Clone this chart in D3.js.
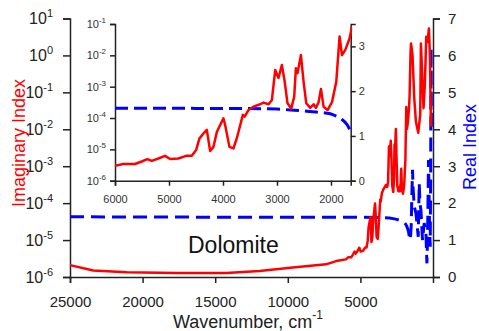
<!DOCTYPE html>
<html>
<head>
<meta charset="utf-8">
<script src="https://cdn.jsdelivr.net/npm/d3@7"></script>
<style>
  html, body { margin: 0; padding: 0; background: #fff; }
  svg { display: block; font-family: Arial, "Liberation Sans", sans-serif; }
</style>
</head>
<body>
<svg id="chart" width="479" height="331"></svg>
<script>
// ---- data ----
const redWn = [25000, 23400, 21100, 17670, 14230, 11950, 9660, 7360, 6670, 6000,
  5846, 5629, 5505, 5401, 5320, 5197, 5073, 4980, 4826, 4671, 4578, 4498, 4437, 4363, 4300,
  4238, 4177, 4114, 3992, 3960, 3881, 3806, 3740, 3632, 3600, 3528, 3436, 3311, 3250, 3157,
  3095, 3033, 2972, 2910, 2861, 2805, 2737, 2681, 2650, 2620, 2557, 2508, 2458, 2384, 2323,
  2280, 2230, 2186, 2137, 2063, 1982, 1902, 1841, 1797, 1735, 1655, 1612, 1580, 1545, 1515,
  1470, 1410, 1292, 1175, 1017, 880, 832, 722, 653, 560, 467, 378, 282, 213, 144, 110];
const redK = [2.1e-6, 1.5e-6, 1.35e-6, 1.29e-6, 1.29e-6, 1.45e-6, 1.8e-6, 2.2e-6, 2.7e-6, 3.0e-6,
  3.4e-6, 3.4e-6, 4.1e-6, 4.9e-6, 4.3e-6, 5.1e-6, 6.2e-6, 4.9e-6, 5.1e-6, 6.3e-6, 6.3e-6, 9.5e-6, 2.2e-5, 3.2e-5, 4.2e-5,
  8.9e-6, 1.2e-5, 3.6e-5, 9.8e-5, 6.0e-5, 1.2e-5, 1.07e-5, 2.4e-5, 1.26e-4, 1.1e-4, 1.8e-4, 2.3e-4, 2.75e-4, 3.1e-4, 2.75e-4,
  3.7e-4, 3.4e-3, 1.9e-3, 4.9e-3, 1.6e-3, 2.95e-4, 2.0e-4, 4.8e-4, 3.9e-3, 2.7e-3, 1.02e-2, 1.45e-3, 2.95e-4, 2.1e-4, 2.75e-4,
  2.1e-4, 3.2e-4, 8.5e-4, 2.3e-4, 1.8e-4, 3.2e-4, 1.45e-3, 4.0e-2, 1.02e-2, 1.5e-2, 3.5e-2, 8.1e-2, 0.3, 1.2, 2.1,
  1.6, 1.0, 0.07, 0.016, 0.008, 0.025, 2.1, 0.19, 0.037, 0.16, 3.2, 2.3, 5.4, 1.0, 0.013, 0.012];

const blueWn = [25000, 20000, 15000, 10000, 6000, 5000, 4000, 3500, 3000, 2750, 2500, 2250, 2100, 2000,
  1900, 1800, 1700, 1640, 1600, 1560, 1500, 1450, 1410, 1370, 1292, 1175, 1017, 948, 900, 832,
  722, 605, 488, 419, 378, 309, 240, 192, 160, 135, 110];
const blueN = [1.63, 1.625, 1.62, 1.62, 1.62, 1.62, 1.61, 1.61, 1.6, 1.58, 1.56, 1.53, 1.51, 1.49,
  1.44, 1.37, 1.25, 1.12, 1.05, 1.0, 1.4, 2.3, 2.9, 2.4, 1.91, 1.73, 1.09, 2.54, 2.0, 1.82,
  1.0, 1.46, 1.19, 0.37, 1.0, 3.17, 1.46, 0.82, 2.81, 6.2, 3.9];

const mainXTicks = [25000, 20000, 15000, 10000, 5000];
const mainKTicks = [1e1, 1e0, 1e-1, 1e-2, 1e-3, 1e-4, 1e-5, 1e-6];
const mainNTicks = [0, 1, 2, 3, 4, 5, 6, 7];
const insetXTicks = [6000, 5000, 4000, 3000, 2000];
const insetKTicks = [1e-1, 1e-2, 1e-3, 1e-4, 1e-5, 1e-6];
const insetNTicks = [0, 1, 2, 3];

const redData = redWn.map((w, i) => ({ w, v: redK[i] }));
const blueData = blueWn.map((w, i) => ({ w, v: blueN[i] }));

const svg = d3.select("#chart");
const RED = "#ff0000", BLUE = "#0000ff", AX = "#222";
const intFmt = d3.format("d");

function styleAxis(g, color, fs) {
  g.select(".domain").attr("stroke", AX).attr("stroke-width", 1.5);
  g.selectAll(".tick line").attr("stroke", AX).attr("stroke-width", 1.5);
  g.selectAll(".tick text").attr("fill", color).attr("font-size", fs)
    .attr("font-family", 'Arial, "Liberation Sans", sans-serif');
}
function powLabels(g, baseSize, expSize, up) {
  g.selectAll(".tick text").each(function(d) {
    const t = d3.select(this);
    const e = Math.round(Math.log10(d));
    t.text(null);
    t.append("tspan").attr("font-size", baseSize).text("10");
    t.append("tspan").attr("font-size", expSize).attr("dy", -up).text(e);
  });
}

// ---- main chart ----
const M = { l: 70, r: 433, t: 18.5, b: 277 };
const x = d3.scaleLinear().domain([25000, 0]).range([M.l, M.r]);
const yk = d3.scaleLog().domain([1e-6, 1e1]).range([M.b, M.t]);
const yn = d3.scaleLinear().domain([0, 7]).range([M.b, M.t]);

const gx = svg.append("g").attr("transform", `translate(0,${M.b})`)
  .call(d3.axisBottom(x).tickValues(mainXTicks).tickSizeOuter(0).tickSize(6).tickPadding(13).tickFormat(intFmt));
styleAxis(gx, AX, 15);

const gyl = svg.append("g").attr("transform", `translate(${M.l},0)`)
  .call(d3.axisLeft(yk).tickValues(mainKTicks).tickSizeOuter(0).tickSize(7).tickPadding(10));
styleAxis(gyl, AX, 16);
powLabels(gyl, 16, 11, 7);

const gyr = svg.append("g").attr("transform", `translate(${M.r},0)`)
  .call(d3.axisRight(yn).tickValues(mainNTicks).tickSizeOuter(0).tickSize(7).tickPadding(8).tickFormat(intFmt));
styleAxis(gyr, AX, 15);

svg.append("path").datum(blueData)
  .attr("fill", "none").attr("stroke", BLUE).attr("stroke-width", 3)
  .attr("stroke-dasharray", "14,7")
  .attr("d", d3.line().x(d => x(d.w)).y(d => yn(d.v)));
svg.append("path").datum(redData)
  .attr("fill", "none").attr("stroke", RED).attr("stroke-width", 2.5)
  .attr("stroke-linejoin", "round")
  .attr("d", d3.line().x(d => x(d.w)).y(d => yk(d.v)));

// axis titles
svg.append("text").attr("transform", "translate(25,143) rotate(-90)")
  .attr("text-anchor", "middle").attr("font-size", 18).attr("fill", RED).text("Imaginary Index");
svg.append("text").attr("transform", "translate(476,147) rotate(-90)")
  .attr("text-anchor", "middle").attr("font-size", 18).attr("fill", BLUE).text("Real Index");
const xt = svg.append("text").attr("x", 248).attr("y", 328).attr("text-anchor", "middle")
  .attr("font-size", 18).attr("fill", AX);
xt.append("tspan").text("Wavenumber, cm");
xt.append("tspan").attr("font-size", 12).attr("dy", -9).text("-1");

svg.append("text").attr("x", 188).attr("y", 253).attr("font-size", 23).attr("fill", "#111").text("Dolomite");

// ---- inset ----
const I = { l: 115, r: 350.7, t: 24, b: 180.7 };
const ix = d3.scaleLinear().domain([6000, 1635]).range([I.l, I.r]);
const iyk = d3.scaleLog().domain([1e-6, 1e-1]).range([I.b, I.t]);
const iyn = d3.scaleLinear().domain([0, 3.5]).range([I.b, I.t]);

svg.append("clipPath").attr("id", "iclip").append("rect")
  .attr("x", I.l).attr("y", 0).attr("width", I.r - I.l + 1.5).attr("height", I.b + 2);

const igx = svg.append("g").attr("transform", `translate(0,${I.b})`)
  .call(d3.axisBottom(ix).tickValues(insetXTicks).tickSizeOuter(0).tickSize(5).tickPadding(10).tickFormat(intFmt));
styleAxis(igx, "#333", 11);
const igy = svg.append("g").attr("transform", `translate(${I.l},0)`)
  .call(d3.axisLeft(iyk).tickValues(insetKTicks).tickSizeOuter(0).tickSize(5).tickPadding(4));
styleAxis(igy, "#333", 11);
powLabels(igy, 11, 8, 5);
const igyr = svg.append("g").attr("transform", `translate(${I.r},0)`)
  .call(d3.axisRight(iyn).tickValues(insetNTicks).tickSizeOuter(0).tickSize(5).tickPadding(3).tickFormat(intFmt));
styleAxis(igyr, "#333", 11);

const ig = svg.append("g").attr("clip-path", "url(#iclip)");
ig.append("path").datum(blueData.filter(d => d.w <= 6000 && d.w >= 1600))
  .attr("fill", "none").attr("stroke", BLUE).attr("stroke-width", 3)
  .attr("stroke-dasharray", "13,6")
  .attr("d", d3.line().curve(d3.curveMonotoneX).x(d => ix(d.w)).y(d => iyn(d.v)));
ig.append("path").datum(redData.filter(d => d.w <= 6000 && d.w >= 1612))
  .attr("fill", "none").attr("stroke", RED).attr("stroke-width", 2.5)
  .attr("stroke-linejoin", "round")
  .attr("d", d3.line().x(d => ix(d.w)).y(d => iyk(d.v)));
</script>
</body>
</html>
